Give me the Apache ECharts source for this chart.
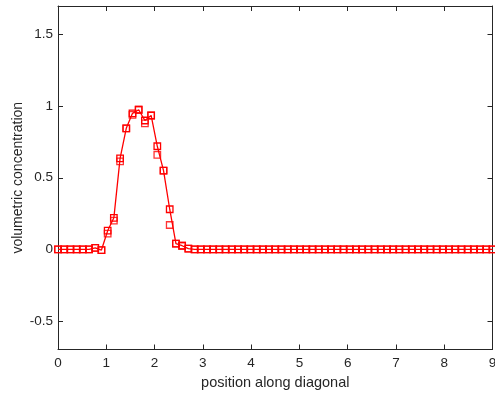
<!DOCTYPE html>
<html>
<head>
<meta charset="utf-8">
<script src="https://cdn.jsdelivr.net/npm/echarts@6/dist/echarts.min.js"></script>
<style>
  html, body { margin: 0; padding: 0; background: #fff; }
  #chart { width: 495px; height: 400px; }
</style>
</head>
<body>
<div id="chart"></div>
<script>
// positions along the diagonal (71 samples)
const positions = [
  0, 0.129, 0.257, 0.386, 0.514, 0.643, 0.771, 0.9, 1.029, 1.157,
  1.286, 1.414, 1.543, 1.671, 1.8, 1.929, 2.057, 2.186, 2.314, 2.443,
  2.571, 2.7, 2.829, 2.957, 3.086, 3.214, 3.343, 3.471, 3.6, 3.729,
  3.857, 3.986, 4.114, 4.243, 4.371, 4.5, 4.629, 4.757, 4.886, 5.014,
  5.143, 5.271, 5.4, 5.529, 5.657, 5.786, 5.914, 6.043, 6.171, 6.3,
  6.429, 6.557, 6.686, 6.814, 6.943, 7.071, 7.2, 7.329, 7.457, 7.586,
  7.714, 7.843, 7.971, 8.1, 8.229, 8.357, 8.486, 8.614, 8.743, 8.871, 9
];

// first profile (line + squares)
const concLine = [
  0, 0, 0, 0, 0, 0, 0.01, -0.005, 0.13, 0.22,
  0.635, 0.845, 0.95, 0.975, 0.9, 0.935, 0.72, 0.55, 0.28, 0.04,
  0.025, 0.005, 0, 0, 0, 0, 0, 0, 0, 0,
  0, 0, 0, 0, 0, 0, 0, 0, 0, 0,
  0, 0, 0, 0, 0, 0, 0, 0, 0, 0,
  0, 0, 0, 0, 0, 0, 0, 0, 0, 0,
  0, 0, 0, 0, 0, 0, 0, 0, 0, 0, 0
];

// second profile (squares only)
const concMarks = [
  0, 0, 0, 0, 0, 0, 0.01, -0.005, 0.11, 0.2,
  0.615, 0.845, 0.94, 0.975, 0.88, 0.935, 0.66, 0.55, 0.17, 0.04,
  0.025, 0.005, 0, 0, 0, 0, 0, 0, 0, 0,
  0, 0, 0, 0, 0, 0, 0, 0, 0, 0,
  0, 0, 0, 0, 0, 0, 0, 0, 0, 0,
  0, 0, 0, 0, 0, 0, 0, 0, 0, 0,
  0, 0, 0, 0, 0, 0, 0, 0, 0, 0, 0
];

const xTicks = [0, 1, 2, 3, 4, 5, 6, 7, 8, 9];
const yTicks = [-0.5, 0, 0.5, 1, 1.5];

const chart = echarts.init(document.getElementById('chart'));
const axisColor = '#262626';
const font = '"Liberation Sans", Arial, sans-serif';

const markStyle = { color: 'rgba(0,0,0,0)', borderColor: '#ff0000', borderWidth: 1.3 };

const baseX = {
  type: 'value', min: 0, max: 9,
  axisLine: { show: true, onZero: false, lineStyle: { color: axisColor, width: 1 } },
  axisTick: { show: true, inside: true, length: 5, customValues: xTicks, lineStyle: { color: axisColor } },
  splitLine: { show: false }
};
const baseY = {
  type: 'value', min: -0.7, max: 1.7,
  axisLine: { show: true, onZero: false, lineStyle: { color: axisColor, width: 1 } },
  axisTick: { show: true, inside: true, length: 5, customValues: yTicks, lineStyle: { color: axisColor } },
  splitLine: { show: false }
};

const option = {
  backgroundColor: '#fff',
  animation: false,
  grid: { left: 58, right: 2.5, top: 6, bottom: 50.5, containLabel: false, outerBoundsMode: 'none' },
  xAxis: [
    Object.assign({}, baseX, {
      position: 'bottom',
      name: 'position along diagonal',
      nameLocation: 'middle',
      nameGap: 26,
      nameMoveOverlap: false,
      nameTextStyle: { color: axisColor, fontSize: 14.5, fontFamily: font },
      axisLabel: { show: true, customValues: xTicks, margin: 7, color: axisColor, fontSize: 13.5, fontFamily: font }
    }),
    Object.assign({}, baseX, { position: 'top', axisLabel: { show: false } })
  ],
  yAxis: [
    Object.assign({}, baseY, {
      position: 'left',
      name: 'volumetric concentration',
      nameLocation: 'middle',
      nameGap: 33,
      nameMoveOverlap: false,
      nameTextStyle: { color: axisColor, fontSize: 14, fontFamily: font },
      axisLabel: { show: true, customValues: yTicks, margin: 5, color: axisColor, fontSize: 13.5, fontFamily: font }
    }),
    Object.assign({}, baseY, { position: 'right', axisLabel: { show: false } })
  ],
  series: [
    {
      type: 'line',
      data: positions.map((x, i) => [x, concLine[i]]),
      symbol: 'rect',
      symbolSize: 6.5,
      showAllSymbol: true,
      lineStyle: { color: '#ff0000', width: 1.3 },
      itemStyle: markStyle,
      z: 3
    },
    {
      type: 'scatter',
      data: positions.map((x, i) => [x, concMarks[i]]),
      symbol: 'rect',
      symbolSize: 6.5,
      itemStyle: markStyle,
      z: 3
    }
  ]
};

chart.setOption(option);
</script>
</body>
</html>
